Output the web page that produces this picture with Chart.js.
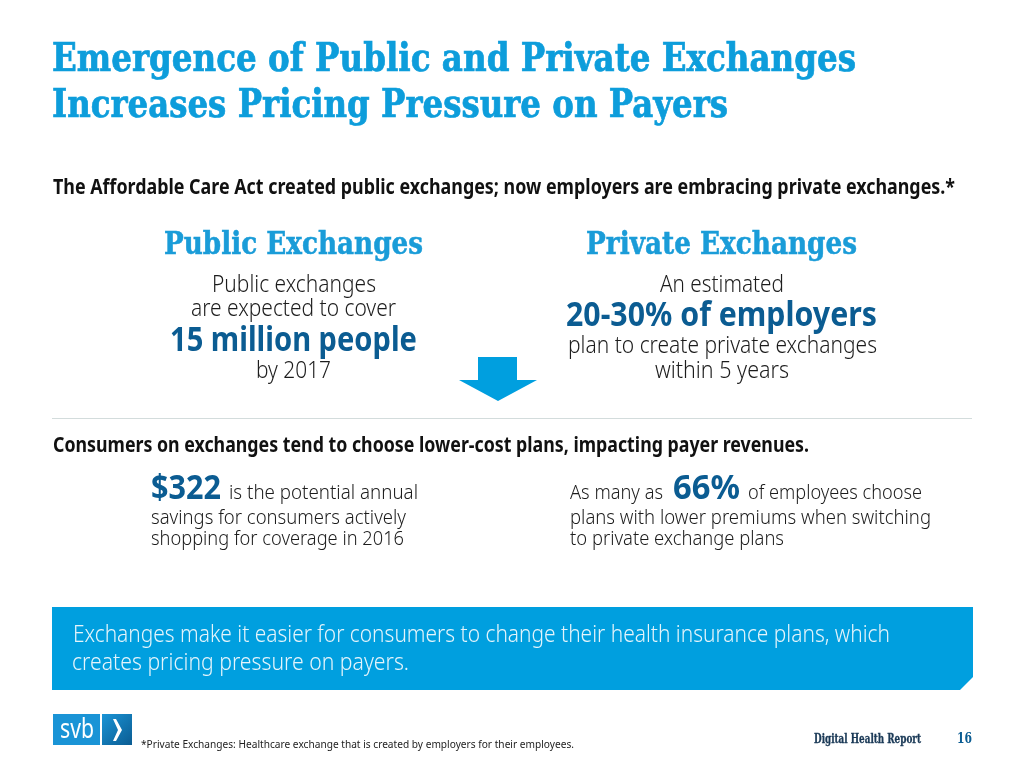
<!DOCTYPE html>
<html>
<head>
<meta charset="utf-8">
<script src="https://cdn.jsdelivr.net/npm/chart.js@4"></script>
<style>
html, body { margin: 0; padding: 0; background: #fff; }
#slide { position: relative; width: 1024px; height: 768px; overflow: hidden; }
#slide canvas { position: absolute; left: 0; top: 0; }
.t { position: absolute; white-space: nowrap; transform-origin: 0 0; }
.title { font: bold 39px "DejaVu Serif Condensed", "DejaVu Serif"; color: #0d9ddb; -webkit-text-stroke: 0.7px #0d9ddb; }
.head { font: bold 31px "DejaVu Serif Condensed", "DejaVu Serif"; color: #1a9cd8; -webkit-text-stroke: 0.5px #1a9cd8; }
.lead { font: bold 21px "Noto Sans"; color: #111; }
.body { font: 300 23px "Noto Sans"; color: #1c1c1c; }
.small { font: 300 20px "Noto Sans"; color: #1c1c1c; }
.big { font: bold 34px "Noto Sans"; color: #0b5c92; }
.banner { font: 300 23px "Noto Sans"; color: #e4f4fb; }
.logo { font: 400 27px "Noto Sans"; color: #fff; }
.note { font: 400 11px "Noto Sans"; color: #222; }
.report { font: bold 12px "DejaVu Serif Condensed"; color: #1b3a57; -webkit-text-stroke: 0.3px #1b3a57; }
.page { font: bold 15px "DejaVu Serif Condensed"; color: #0b5c92; }
</style>
</head>
<body>
<div id="slide"><canvas id="myChart" width="1024" height="768"></canvas></div>
<script>
const titleLines = ["Emergence of Public and Private Exchanges", "Increases Pricing Pressure on Payers"]
const introLine = "The Affordable Care Act created public exchanges; now employers are embracing private exchanges.*"
const publicText = ["Public Exchanges", "Public exchanges", "are expected to cover", "15 million people", "by 2017"]
const privateText = ["Private Exchanges", "An estimated", "20-30% of employers", "plan to create private exchanges", "within 5 years"]
const consumersLine = "Consumers on exchanges tend to choose lower-cost plans, impacting payer revenues."
const savingsText = ["$322", "is the potential annual", "savings for consumers actively", "shopping for coverage in 2016"]
const employeesText = ["As many as", "66%", "of employees choose", "plans with lower premiums when switching", "to private exchange plans"]
const bannerText = ["Exchanges make it easier for consumers to change their health insurance plans, which", "creates pricing pressure on payers."]
const footerText = ["svb", "*Private Exchanges:  Healthcare exchange that is created by employers for their employees.", "Digital Health Report", "16"]

// text, class, left, right, baseline
const layout = [
    [titleLines[0], "title", 52, 856, 71],
    [titleLines[1], "title", 52, 728, 117],
    [introLine, "lead", 53, 955, 194],
    [publicText[0], "head", 164, 423, 254],
    [publicText[1], "body", 212, 376, 292],
    [publicText[2], "body", 191, 396, 316],
    [publicText[3], "big", 170, 417, 351],
    [publicText[4], "body", 256, 331, 378],
    [privateText[0], "head", 586, 857, 254],
    [privateText[1], "body", 660, 784, 292],
    [privateText[2], "big", 566, 877, 326],
    [privateText[3], "body", 568, 877, 353],
    [privateText[4], "body", 655, 789, 378],
    [consumersLine, "lead", 53, 809, 452],
    [savingsText[0], "big", 151, 221, 499],
    [savingsText[1], "small", 229, 418, 499],
    [savingsText[2], "small", 151, 406, 524],
    [savingsText[3], "small", 151, 404, 545],
    [employeesText[0], "small", 570, 663, 499],
    [employeesText[1], "big", 673, 740, 499],
    [employeesText[2], "small", 748, 922, 499],
    [employeesText[3], "small", 570, 931, 524],
    [employeesText[4], "small", 570, 784, 545],
    [bannerText[0], "banner", 73, 890, 642],
    [bannerText[1], "banner", 72, 409, 670],
    [footerText[0], "logo", 60, 94, 738],
    [footerText[1], "note", 141, 574, 748],
    [footerText[2], "report", 814, 921, 743],
    [footerText[3], "page", 957, 972, 743]
]

// the slide furniture, in slide pixels, laid out through the chart's scales
const shapes = [
    {color: "#009fdf", points: [[478,357],[517,357],[517,380],[537,380],[498,401],[459,380],[478,380]]},
    {color: "#d3dcdc", points: [[52,418],[972,418],[972,419],[52,419]]},
    {color: "#009fdf", points: [[52,607],[973,607],[973,677],[960,690],[52,690]]},
    {color: "#1a94d6", points: [[53,714],[100,714],[100,745],[53,745]]},
    {color: ["#1a94d6", "#0b5c92"], points: [[102,714],[132,714],[132,745],[102,745]]},
    {color: "#ffffff", points: [[113,719],[116,719],[122,730],[116,741],[113,741],[118,730]]}
]

const slideShapes = {
    id: "slideShapes",
    beforeDraw(chart) {
        const {ctx, scales: {x, y}} = chart
        shapes.forEach((shape) => {
            const pts = shape.points.map((p) => [x.getPixelForValue(p[0]), y.getPixelForValue(p[1])])
            ctx.beginPath()
            pts.forEach((p, i) => {
                if (i == 0) ctx.moveTo(p[0], p[1])
                else ctx.lineTo(p[0], p[1])
            })
            ctx.closePath()
            if (Array.isArray(shape.color)) {
                const grad = ctx.createLinearGradient(pts[0][0], pts[0][1], pts[2][0], pts[2][1])
                grad.addColorStop(0, shape.color[0])
                grad.addColorStop(1, shape.color[1])
                ctx.fillStyle = grad
            } else {
                ctx.fillStyle = shape.color
            }
            ctx.fill()
        })
    }
}

new Chart(document.getElementById("myChart").getContext("2d"), {
    type: "scatter",
    data: {datasets: [{data: []}]},
    options: {
        responsive: false,
        animation: false,
        layout: {padding: 0},
        plugins: {legend: {display: false}, tooltip: {enabled: false}},
        scales: {
            x: {type: "linear", min: 0, max: 1024, display: false},
            y: {type: "linear", min: 0, max: 768, reverse: true, display: false}
        }
    },
    plugins: [slideShapes]
})

// real text on top, squeezed to the width it has in the slide
const slide = document.getElementById("slide")
layout.forEach(([text, cls, left, right, baseline]) => {
    const span = document.createElement("span")
    span.className = "t " + cls
    span.textContent = text
    span.style.left = left + "px"
    span.style.top = "0px"
    slide.appendChild(span)
    const probe = document.createElement("i")
    probe.style.cssText = "display:inline-block;width:0;height:0"
    span.appendChild(probe)
    const base = probe.getBoundingClientRect().bottom - slide.getBoundingClientRect().top
    span.removeChild(probe)
    span.style.top = (baseline - base) + "px"
    span.style.transform = "scaleX(" + (right - left) / span.getBoundingClientRect().width + ")"
})
</script>
</body>
</html>
